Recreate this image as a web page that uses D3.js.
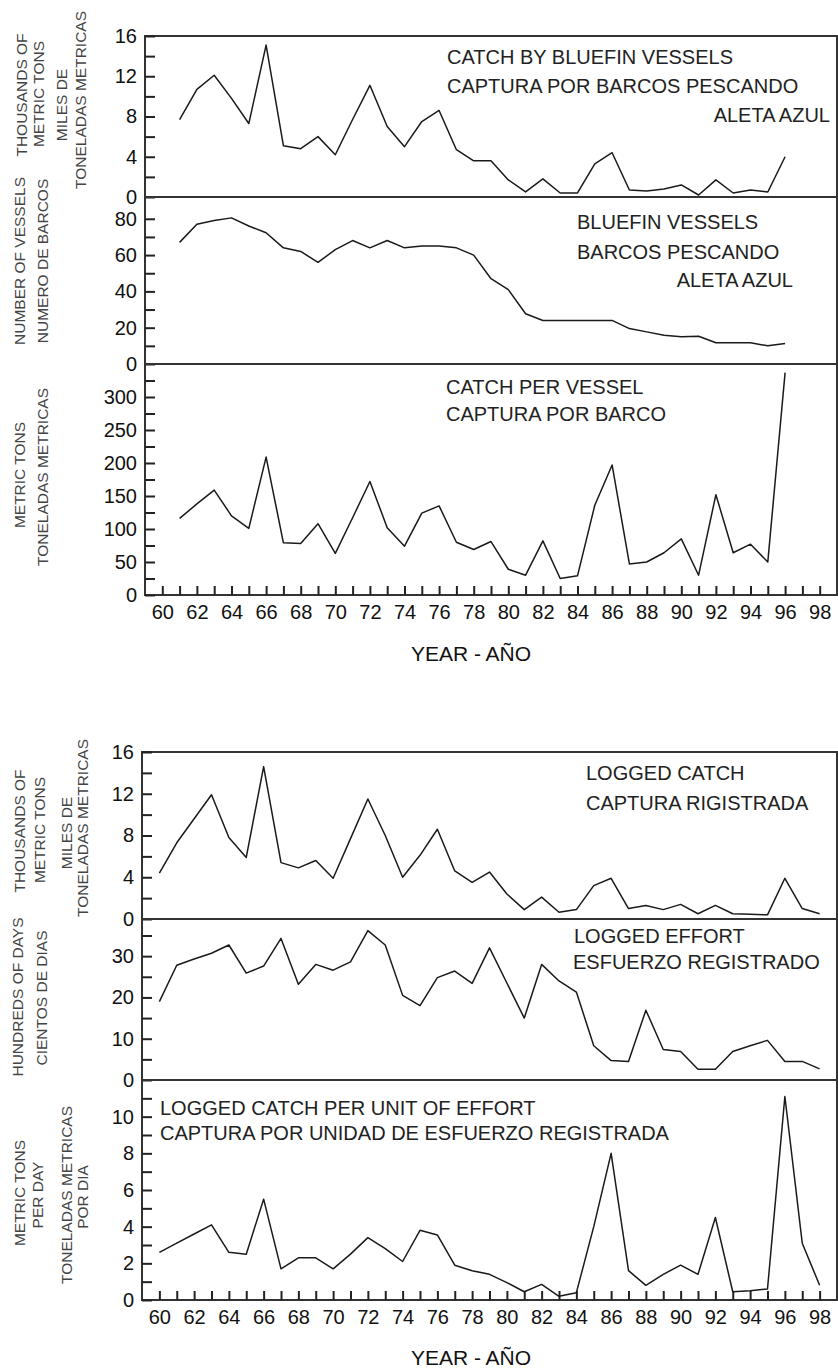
<!DOCTYPE html>
<html>
<head>
<meta charset="utf-8">
<script src="https://cdn.jsdelivr.net/npm/d3@7"></script>
<style>
  body { margin: 0; background: #fff; }
  svg { display: block; }
  text { font-family: "Liberation Sans", Arial, sans-serif; }
</style>
</head>
<body>
<div id="chart"></div>
<script>
// ---- data ----
const yearsTop = [61,62,63,64,65,66,67,68,69,70,71,72,73,74,75,76,77,78,79,80,
                  81,82,83,84,85,86,87,88,89,90,91,92,93,94,95,96];
const catchBluefin = [7.7,10.7,12.1,9.8,7.3,15.1,5.1,4.8,6.0,4.2,7.7,11.1,7.0,5.0,7.5,8.6,4.7,3.6,3.6,1.7,
                      0.5,1.8,0.4,0.4,3.3,4.4,0.7,0.6,0.8,1.2,0.2,1.7,0.4,0.7,0.5,4.0];
const vesselsBluefin = [67,77,79,80.5,76,72.3,64,62,56,63,68,64,68,64,65,65,64,60,47,41,
                        27.7,24,24,24,24,24,19.5,17.7,15.8,15,15.3,11.7,11.7,11.7,10,11.3];
const catchPerVessel = [116,138,159,120,101,209,79,78,108,63,117,172,102,74,124,135,80,69,81,39,
                        30,82,25,29,136,197,47,50,64,85,30,152,64,77,50,337];

const yearsBottom = [60,61,62,63,64,65,66,67,68,69,70,71,72,73,74,75,76,77,78,79,
                     80,81,82,83,84,85,86,87,88,89,90,91,92,93,94,95,96,97,98];
const loggedCatch = [4.4,7.3,9.6,11.9,7.8,5.9,14.6,5.4,4.9,5.6,3.9,7.7,11.5,8.0,4.0,6.1,8.6,4.6,3.5,4.5,
                     2.4,0.9,2.1,0.65,0.9,3.2,3.9,1.0,1.3,0.9,1.4,0.5,1.3,0.5,0.45,0.4,3.9,1.0,0.5];
const loggedEffort = [19,27.8,29.3,30.7,32.7,25.9,27.6,34.3,23.2,28,26.6,28.6,36.2,32.7,20.5,18,24.8,26.4,23.4,32,
                      23.5,15,28,24,21.3,8.3,4.7,4.5,16.9,7.4,6.9,2.6,2.6,6.9,8.3,9.6,4.5,4.5,2.7];
const loggedCpue = [2.6,3.1,3.6,4.1,2.6,2.5,5.5,1.7,2.3,2.3,1.7,2.5,3.4,2.8,2.1,3.8,3.55,1.9,1.6,1.4,
                    0.95,0.45,0.85,0.2,0.4,4.0,8.0,1.6,0.8,1.4,1.9,1.4,4.5,0.45,0.5,0.6,11.1,3.1,0.8];

// ticks
const yearTicks = [60,61,62,63,64,65,66,67,68,69,70,71,72,73,74,75,76,77,78,79,
                   80,81,82,83,84,85,86,87,88,89,90,91,92,93,94,95,96,97,98];
const yearLabels = [60,62,64,66,68,70,72,74,76,78,80,82,84,86,88,90,92,94,96,98];
const ticksThousands = [0,4,8,12,16];
const minorThousands = [2,6,10,14];
const ticksVessels = [0,20,40,60,80];
const minorVessels = [10,30,50,70];
const ticksPerVessel = [0,50,100,150,200,250,300];
const minorPerVessel = [25,75,125,175,225,275,325];
const ticksEffort = [0,10,20,30];
const minorEffort = [5,15,25,35];
const ticksCpue = [0,2,4,6,8,10];
const minorCpue = [1,3,5,7,9,11];

// ---- layout ----
const width = 838, height = 1370;
const svg = d3.select("#chart").append("svg")
    .attr("width", width)
    .attr("height", height);
svg.append("rect").attr("width", width).attr("height", height).attr("fill", "#fff");

const xTop = d3.scaleLinear().domain([59, 99]).range([145, 837]);
const xBottom = d3.scaleLinear().domain([59, 99]).range([142, 837]);

const panels = [
  { x: xTop, years: yearsTop, values: catchBluefin, top: 36, bottom: 197, max: 16,
    ticks: ticksThousands, minor: minorThousands,
    notes: [["CATCH BY BLUEFIN VESSELS", 447, 64, "start"],
            ["CAPTURA POR BARCOS PESCANDO", 447, 93, "start"],
            ["ALETA AZUL", 830, 122, "end"]],
    titles: [["THOUSANDS OF", 22, 95], ["METRIC TONS", 39, 94],
             ["MILES DE", 62, 105], ["TONELADAS METRICAS", 81, 100]] },
  { x: xTop, years: yearsTop, values: vesselsBluefin, top: 197, bottom: 364, max: 92,
    ticks: ticksVessels, minor: minorVessels,
    notes: [["BLUEFIN VESSELS", 577, 229, "start"],
            ["BARCOS PESCANDO", 577, 259, "start"],
            ["ALETA AZUL", 793, 287, "end"]],
    titles: [["NUMBER OF VESSELS", 20, 261], ["NUMERO DE BARCOS", 43, 261]] },
  { x: xTop, years: yearsTop, values: catchPerVessel, top: 364, bottom: 595, max: 350,
    ticks: ticksPerVessel, minor: minorPerVessel, xAxis: true,
    notes: [["CATCH PER VESSEL", 446, 394, "start"],
            ["CAPTURA POR BARCO", 446, 421, "start"]],
    titles: [["METRIC TONS", 20, 475], ["TONELADAS METRICAS", 43, 477]] },
  { x: xBottom, years: yearsBottom, values: loggedCatch, top: 752, bottom: 919, max: 16,
    ticks: ticksThousands, minor: minorThousands,
    notes: [["LOGGED CATCH", 586, 780, "start"],
            ["CAPTURA RIGISTRADA", 586, 810, "start"]],
    titles: [["THOUSANDS OF", 20, 831], ["METRIC TONS", 40, 830],
             ["MILES DE", 67, 833], ["TONELADAS METRICAS", 83, 828]] },
  { x: xBottom, years: yearsBottom, values: loggedEffort, top: 919, bottom: 1080, max: 39,
    ticks: ticksEffort, minor: minorEffort,
    notes: [["LOGGED EFFORT", 574, 943, "start"],
            ["ESFUERZO REGISTRADO", 573, 969, "start"]],
    titles: [["HUNDREDS OF DAYS", 18, 997], ["CIENTOS DE DIAS", 42, 998]] },
  { x: xBottom, years: yearsBottom, values: loggedCpue, top: 1080, bottom: 1300, max: 12,
    ticks: ticksCpue, minor: minorCpue, xAxis: true,
    notes: [["LOGGED CATCH PER UNIT OF EFFORT", 160, 1115, "start"],
            ["CAPTURA POR UNIDAD DE ESFUERZO REGISTRADA", 160, 1140, "start"]],
    titles: [["METRIC TONS", 20, 1193], ["PER DAY", 38, 1195],
             ["TONELADAS METRICAS", 67, 1195], ["POR DIA", 83, 1197]] }
];

function styleAxis(g) {
  g.select(".domain").remove();
  g.selectAll(".tick line").attr("stroke", "#222").attr("stroke-width", 2);
  g.selectAll(".tick text").attr("fill", "#111").style("font-size", "20px")
    .style("font-family", "'Liberation Sans', Arial, sans-serif");
}

panels.forEach(p => {
  const [x0, x1] = p.x.range();
  const y = d3.scaleLinear().domain([0, p.max]).range([p.bottom, p.top]);

  // frame
  svg.append("rect")
      .attr("x", x0).attr("y", p.top)
      .attr("width", x1 - x0).attr("height", p.bottom - p.top)
      .attr("fill", "none").attr("stroke", "#333").attr("stroke-width", 2);

  // y axis (ticks point inward)
  svg.append("g")
      .attr("transform", `translate(${x0},0)`)
      .call(d3.axisLeft(y).tickValues(p.ticks).tickSize(-10).tickPadding(8))
      .call(styleAxis);
  svg.append("g")
      .attr("transform", `translate(${x0},0)`)
      .call(d3.axisLeft(y).tickValues(p.minor).tickSize(-10).tickFormat(""))
      .call(styleAxis);

  // x axis
  if (p.xAxis) {
    svg.append("g")
        .attr("transform", `translate(0,${p.bottom})`)
        .call(d3.axisBottom(p.x).tickValues(yearTicks).tickSize(-9).tickPadding(10)
              .tickFormat(d => yearLabels.includes(d) ? d : ""))
        .call(styleAxis);
  }

  // series
  const line = d3.line().x((d, i) => p.x(p.years[i])).y(d => y(d));
  svg.append("path")
      .datum(p.values)
      .attr("d", line)
      .attr("fill", "none")
      .attr("stroke", "#1a1a1a")
      .attr("stroke-width", 1.5)
      .attr("stroke-linejoin", "round");

  // annotations
  p.notes.forEach(([t, tx, ty, anchor]) => {
    svg.append("text")
        .attr("x", tx).attr("y", ty)
        .attr("text-anchor", anchor)
        .attr("fill", "#222")
        .style("font-size", "20px")
        .text(t);
  });

  // rotated y titles
  p.titles.forEach(([t, cx, cy]) => {
    svg.append("text")
        .attr("transform", `translate(${cx + 5},${cy}) rotate(-90)`)
        .attr("text-anchor", "middle")
        .attr("fill", "#444")
        .style("font-size", "15.5px")
        .text(t);
  });
});

// x titles
[[471, 661], [471, 1365]].forEach(([tx, ty]) => {
  svg.append("text")
      .attr("x", tx).attr("y", ty)
      .attr("text-anchor", "middle")
      .attr("fill", "#111")
      .style("font-size", "21px")
      .text("YEAR - AÑO");
});
</script>
</body>
</html>
